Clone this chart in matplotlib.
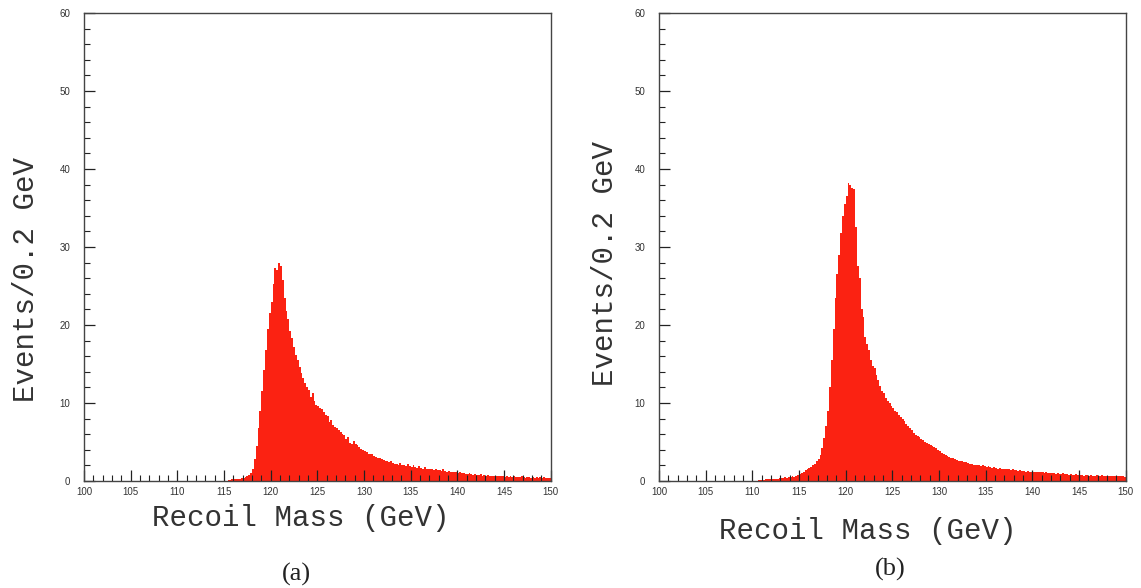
import numpy as np
import matplotlib
matplotlib.use('Agg')
import matplotlib.pyplot as plt
from matplotlib.ticker import MultipleLocator

# bin width 0.2 GeV
start_a = 115.0
counts_a = [
    0, 0, 0.1, 0.1, 0.2,
    0.2, 0.3, 0.3, 0.3, 0.4,
    0.4, 0.5, 0.6, 0.8, 1.0,
    1.6, 2.8, 4.5, 6.8, 9.0,
    11.5, 14.2, 16.8, 19.5, 21.5,
    23.0, 25.3, 27.3, 27.0, 27.9,
    27.6, 25.8, 23.5, 21.8, 20.8,
    19.2, 18.3, 17.2, 16.2, 15.5,
    14.6, 13.8, 13.2, 12.5, 12.0,
    11.6, 10.8, 11.3, 10.2, 9.8,
    9.6, 9.3, 9.2, 8.8, 8.5,
    8.3, 7.6, 7.8, 7.2, 6.9,
    6.8, 6.5, 6.3, 6.0, 5.9,
    5.4, 5.6, 4.9, 4.8, 5.1,
    4.7, 4.6, 4.3, 4.1, 4.0,
    3.8, 3.7, 3.5, 3.4, 3.5,
    3.2, 3.1, 2.9, 3.0, 2.8,
    2.7, 2.6, 2.6, 2.4, 2.5,
    2.3, 2.2, 2.2, 2.1, 2.3,
    2.0, 2.1, 1.9, 2.2, 1.9,
    1.8, 2.0, 1.8, 1.7, 1.9,
    1.7, 1.6, 1.8, 1.6, 1.5,
    1.5, 1.6, 1.4, 1.5, 1.4,
    1.4, 1.3, 1.5, 1.3, 1.2,
    1.3, 1.2, 1.1, 1.2, 1.1,
    1.0, 1.1, 1.0, 1.0, 0.9,
    0.9, 1.0, 0.9, 0.8, 0.9,
    0.8, 0.8, 0.9, 0.7, 0.8,
    0.7, 0.8, 0.7, 0.7, 0.6,
    0.7, 0.6, 0.6, 0.7, 0.6,
    0.5, 0.6, 0.5, 0.6, 0.5,
    0.6, 0.5, 0.5, 0.5, 0.6,
    0.5, 0.4, 0.5, 0.5, 0.4,
    0.5, 0.4, 0.5, 0.4, 0.5,
    0.4, 0.5, 0.4, 0.4, 0.4,
]

start_b = 110.0
counts_b = [
    0, 0, 0, 0.1, 0.1,
    0.1, 0.1, 0.2, 0.2, 0.2,
    0.3, 0.3, 0.3, 0.3, 0.4,
    0.4, 0.4, 0.5, 0.4, 0.5,
    0.5, 0.6, 0.5, 0.7, 0.8,
    0.9, 1.0, 1.2, 1.4, 1.6,
    1.7, 1.8, 2.0, 2.2, 2.5,
    2.8, 3.3, 4.2, 5.5, 7.0,
    9.0, 12.0, 15.5, 19.5, 23.5,
    26.5, 29.0, 31.8, 34.0, 35.5,
    36.5, 38.2, 38.0, 37.5, 37.4,
    32.5, 27.6, 26.0, 22.0, 21.0,
    18.5, 17.5, 16.8, 15.5, 14.8,
    14.5, 13.6, 12.9, 12.2, 11.5,
    11.3, 10.7, 10.3, 10.0, 9.6,
    9.4, 9.0, 8.8, 8.4, 8.2,
    7.9, 7.7, 7.3, 7.0, 6.8,
    6.5, 6.2, 5.9, 5.8, 5.7,
    5.4, 5.2, 5.0, 4.9, 4.7,
    4.6, 4.5, 4.3, 4.2, 4.0,
    3.8, 3.6, 3.5, 3.3, 3.2,
    3.1, 3.0, 2.9, 2.8, 2.7,
    2.6, 2.6, 2.5, 2.4, 2.4,
    2.3, 2.2, 2.2, 2.1, 2.1,
    2.0, 2.0, 1.9, 2.0, 1.9,
    1.8, 1.9, 1.8, 1.7, 1.8,
    1.7, 1.6, 1.7, 1.6, 1.6,
    1.5, 1.6, 1.5, 1.4, 1.5,
    1.4, 1.4, 1.3, 1.4, 1.3,
    1.3, 1.2, 1.3, 1.2, 1.2,
    1.2, 1.1, 1.2, 1.1, 1.1,
    1.1, 1.0, 1.1, 1.0, 1.0,
    1.0, 1.0, 0.9, 1.0, 0.9,
    0.9, 1.0, 0.9, 0.9, 0.8,
    0.9, 0.8, 0.8, 0.9, 0.8,
    0.8, 0.8, 0.7, 0.8, 0.8,
    0.7, 0.8, 0.7, 0.7, 0.8,
    0.7, 0.7, 0.8, 0.7, 0.6,
    0.7, 0.6, 0.7, 0.7, 0.6,
    0.6, 0.7, 0.6, 0.6, 0.5,
]

bin_width = 0.2
panels = [
    (start_a, counts_a, '(a)'),
    (start_b, counts_b, '(b)'),
]

fig = plt.figure(figsize=(11.41, 5.88), dpi=100)
mono = 'Liberation Mono'

# per-panel placement: axes left, xlabel (x, y), ylabel (x, y), tag (x, y)
layout = [
    (0.0736, (0.465, -0.05), (-0.094, 0.43), (0.455, -0.2)),
    (0.5776, (0.448, -0.076), (-0.086, 0.464), (0.495, -0.19)),
]

for (left, xl, yl, tagpos), (start, counts, tag) in zip(layout, panels):
    ax = fig.add_axes([left, 0.182, 0.409, 0.796])
    edges = start + bin_width * np.arange(len(counts) + 1)
    ax.stairs(counts, edges, fill=True, color='#fb2212', linewidth=0)

    ax.set_xlim(100, 150)
    ax.set_ylim(0, 60)
    ax.xaxis.set_major_locator(MultipleLocator(5))
    ax.xaxis.set_minor_locator(MultipleLocator(1))
    ax.yaxis.set_major_locator(MultipleLocator(10))
    ax.yaxis.set_minor_locator(MultipleLocator(2))
    ax.tick_params(which='both', direction='in', top=False, right=False,
                   labelsize=7, labelcolor='#333333', color='#222222')
    ax.tick_params(which='major', length=8, width=0.9)
    ax.tick_params(which='minor', length=4, width=0.8)
    ax.tick_params(axis='x', pad=4)
    ax.tick_params(axis='y', pad=10)
    for lab in ax.get_xticklabels() + ax.get_yticklabels():
        lab.set_family('Liberation Sans')
    for s in ax.spines.values():
        s.set_color('#444444')
        s.set_linewidth(1.0)

    ax.set_xlabel('Recoil Mass (GeV)', family=mono, fontsize=21,
                  color='#333333')
    ax.xaxis.set_label_coords(*xl)
    ax.set_ylabel('Events/0.2 GeV', family=mono, fontsize=21,
                  color='#333333')
    ax.yaxis.set_label_coords(*yl)
    ax.text(tagpos[0], tagpos[1], tag, transform=ax.transAxes,
            ha='center', va='center',
            family='Liberation Serif', fontsize=19, color='#222222')

fig.savefig('out.png', dpi=100)
